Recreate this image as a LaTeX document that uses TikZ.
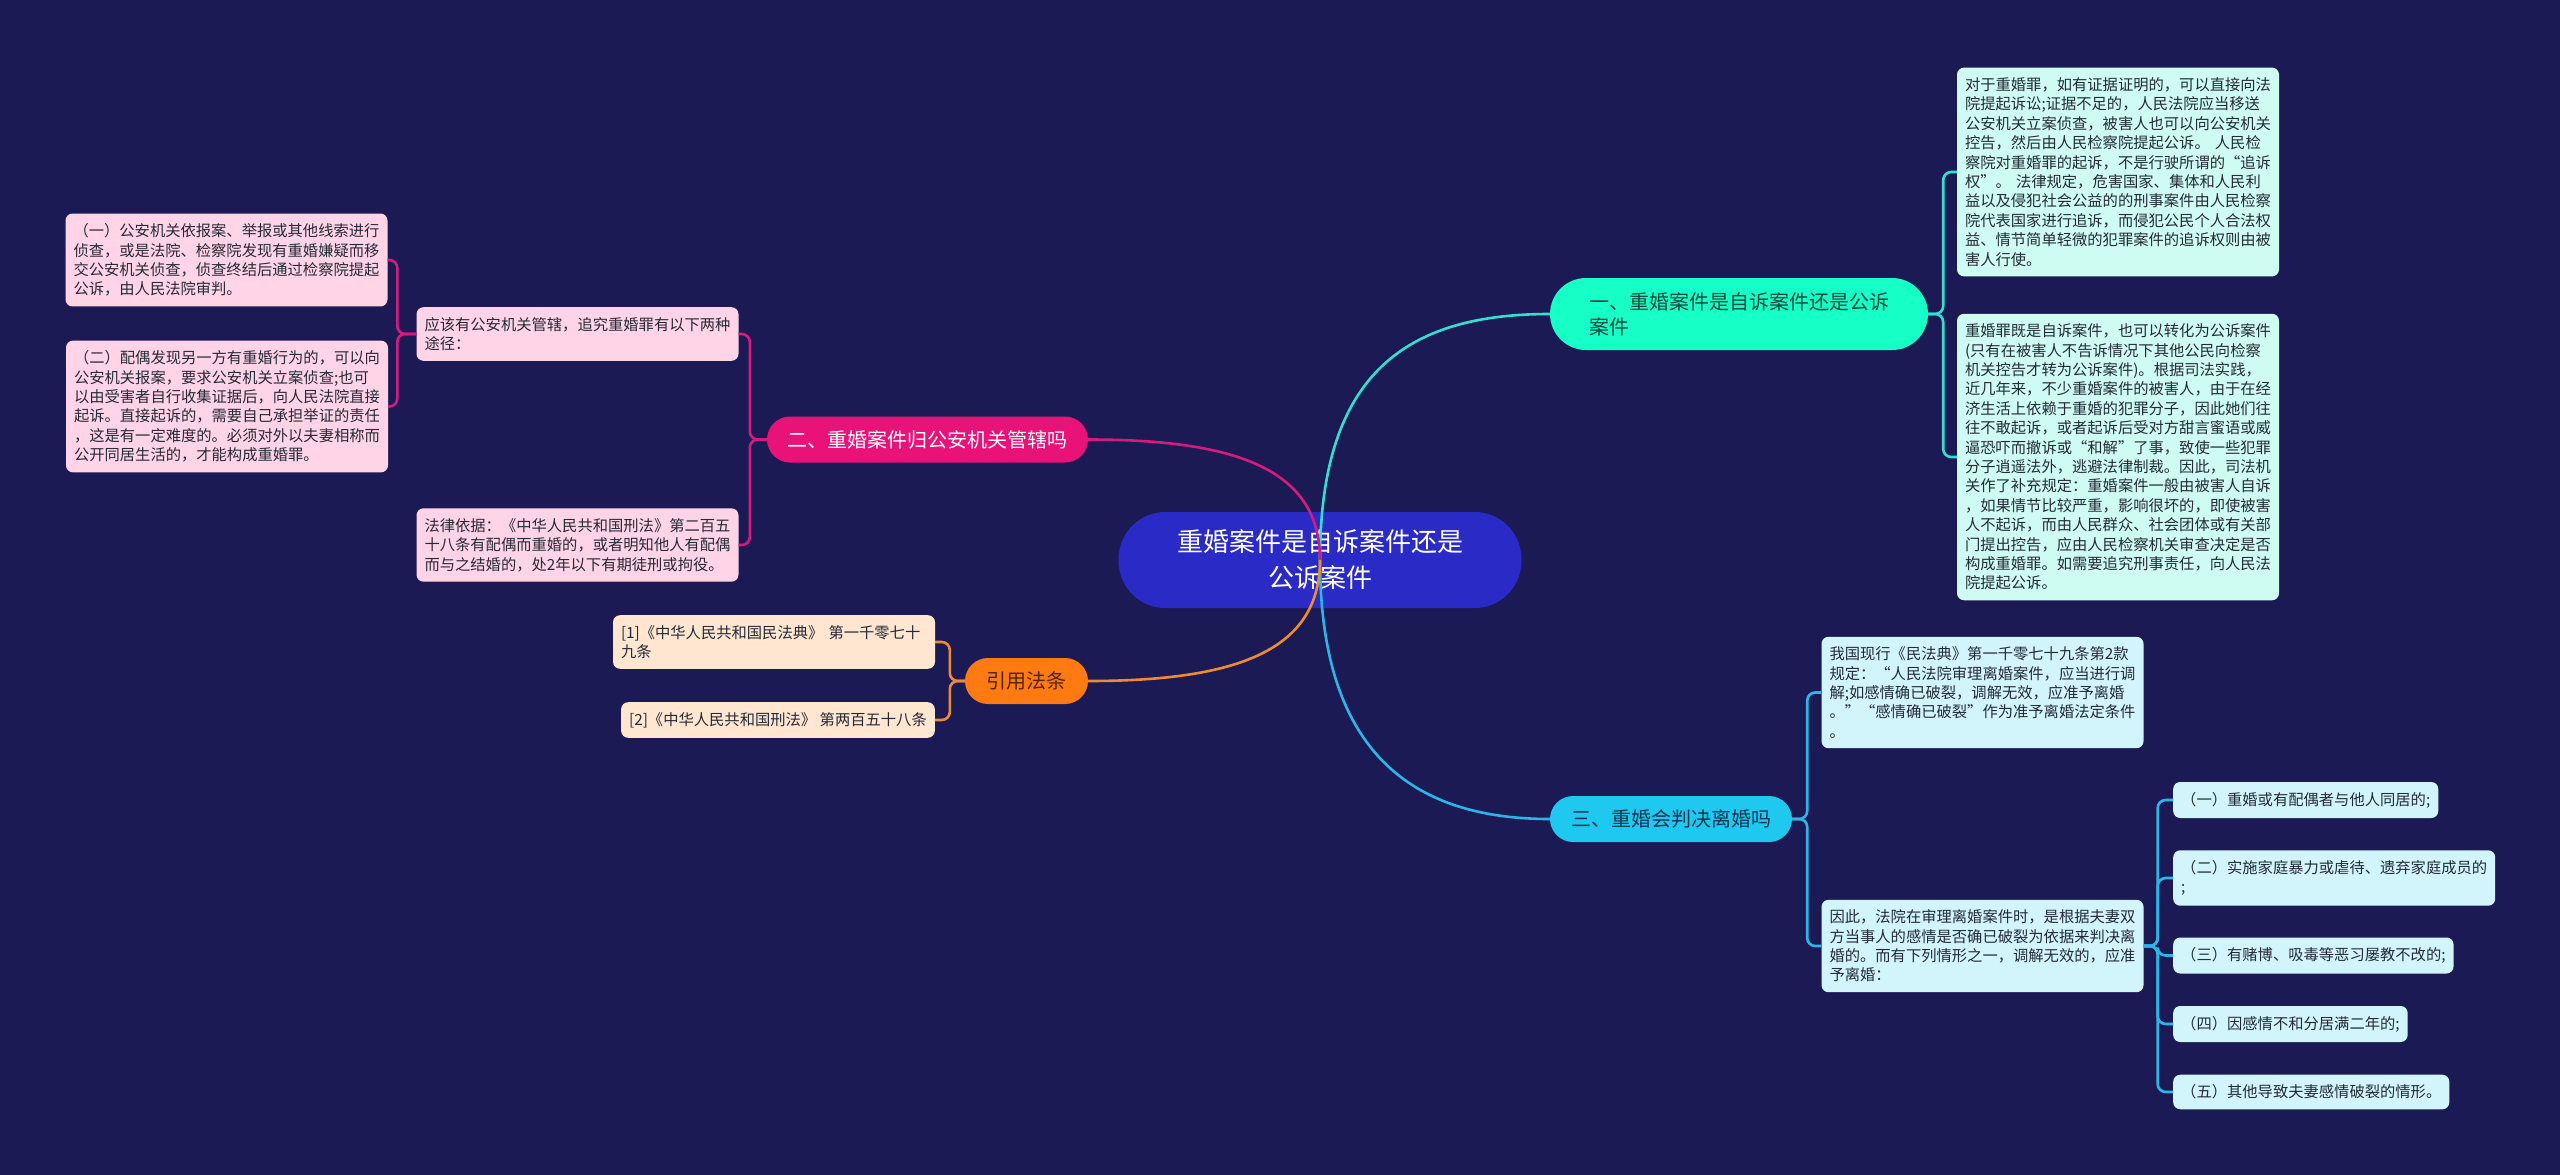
\documentclass[tikz,border=0pt]{standalone}
\usepackage{fontspec}
\setmainfont{Noto Sans CJK SC}
\usepackage{tikz}
\definecolor{bgnavy}{RGB}{27, 26, 84}
\definecolor{topicblue}{RGB}{42, 42, 198}
\definecolor{mintgreen}{RGB}{22, 255, 198}
\definecolor{hotpink}{RGB}{233, 18, 120}
\definecolor{brightorange}{RGB}{255, 122, 16}
\definecolor{skyblue}{RGB}{30, 200, 238}
\definecolor{mintleaf}{RGB}{206, 252, 242}
\definecolor{pinkleaf}{RGB}{255, 212, 230}
\definecolor{peachleaf}{RGB}{255, 230, 208}
\definecolor{blueleaf}{RGB}{210, 245, 252}
\definecolor{mintline}{RGB}{52, 222, 208}
\definecolor{pinkline}{RGB}{214, 26, 126}
\definecolor{orangeline}{RGB}{238, 138, 52}
\definecolor{blueline}{RGB}{44, 182, 232}
\definecolor{darktext}{RGB}{36, 42, 56}
\definecolor{mintdark}{RGB}{14, 72, 64}
\definecolor{orangedark}{RGB}{80, 36, 6}
\definecolor{bluedark}{RGB}{12, 52, 82}

\begin{document}
\begin{tikzpicture}[x=1pt, y=-1pt,
    topic/.style={rectangle, rounded corners=47pt, fill=topicblue, minimum width=403pt, minimum height=96pt, align=center, text=white, font=\fontsize{26}{36}\selectfont},
    branch/.style={rectangle, rounded corners=23pt, minimum height=46pt, align=center, font=\fontsize{20}{25}\selectfont},
    leaf/.style={rectangle, rounded corners=7pt, fill=#1, inner xsep=8pt, inner ysep=10pt, text width=306pt, align=left, text=darktext, font=\fontsize{15.3}{19.4}\selectfont},
    chip/.style={rectangle, rounded corners=7pt, fill=#1, inner xsep=8pt, inner ysep=10pt, align=left, text=darktext, font=\fontsize{15.3}{19.4}\selectfont},
    link/.style={line width=2.6pt, rounded corners=8pt}
]
\fill[bgnavy] (0,0) rectangle (2560,1175);
\useasboundingbox (0,0) rectangle (2560,1175);

% central topic and main branches
\node[topic] (ctr) at (1320,560) {重婚案件是自诉案件还是\\公诉案件};
\node[branch, fill=mintgreen, text=mintdark, minimum width=378pt, minimum height=72pt, rounded corners=36pt, text width=300pt, align=left] (zihs) at (1739,314) {一、重婚案件是自诉案件还是公诉\\案件};
\node[branch, fill=hotpink, text=white, minimum width=321pt] (gaj) at (927.5,439.5) {二、重婚案件归公安机关管辖吗};
\node[branch, fill=brightorange, text=orangedark, minimum width=123pt] (yyfl) at (1026.5,681) {引用法条};
\node[branch, fill=skyblue, text=bluedark, minimum width=242pt] (plhy) at (1671,819) {三、重婚会判决离婚吗};

% branch one
\node[leaf=mintleaf] (zsa) at (2118,172) {对于重婚罪，如有证据证明的，可以直接向法\\院提起诉讼;证据不足的，人民法院应当移送\\公安机关立案侦查，被害人也可以向公安机关\\控告，然后由人民检察院提起公诉。 人民检\\察院对重婚罪的起诉，不是行驶所谓的“追诉\\权”。 法律规定，危害国家、集体和人民利\\益以及侵犯社会公益的的刑事案件由人民检察\\院代表国家进行追诉，而侵犯公民个人合法权\\益、情节简单轻微的犯罪案件的追诉权则由被\\害人行使。};
\node[leaf=mintleaf] (zsb) at (2118,457) {重婚罪既是自诉案件，也可以转化为公诉案件\\(只有在被害人不告诉情况下其他公民向检察\\机关控告才转为公诉案件)。根据司法实践，\\近几年来，不少重婚案件的被害人，由于在经\\济生活上依赖于重婚的犯罪分子，因此她们往\\往不敢起诉，或者起诉后受对方甜言蜜语或威\\逼恐吓而撤诉或“和解”了事，致使一些犯罪\\分子逍遥法外，逃避法律制裁。因此，司法机\\关作了补充规定：重婚案件一般由被害人自诉\\，如果情节比较严重，影响很坏的，即使被害\\人不起诉，而由人民群众、社会团体或有关部\\门提出控告，应由人民检察机关审查决定是否\\构成重婚罪。如需要追究刑事责任，向人民法\\院提起公诉。};

% branch two
\node[leaf=pinkleaf] (gya) at (577.5,334) {应该有公安机关管辖，追究重婚罪有以下两种\\途径：};
\node[leaf=pinkleaf] (gyb) at (577.5,545) {法律依据：《中华人民共和国刑法》第二百五\\十八条有配偶而重婚的，或者明知他人有配偶\\而与之结婚的，处2年以下有期徒刑或拘役。};
\node[leaf=pinkleaf] (gtj1) at (226.5,260) {（一）公安机关依报案、举报或其他线索进行\\侦查，或是法院、检察院发现有重婚嫌疑而移\\交公安机关侦查，侦查终结后通过检察院提起\\公诉，由人民法院审判。};
\node[leaf=pinkleaf] (gtj2) at (227,406.5) {（二）配偶发现另一方有重婚行为的，可以向\\公安机关报案，要求公安机关立案侦查;也可\\以由受害者自行收集证据后，向人民法院直接\\起诉。直接起诉的，需要自己承担举证的责任\\，这是有一定难度的。必须对外以夫妻相称而\\公开同居生活的，才能构成重婚罪。};

% cited articles
\node[leaf=peachleaf] (fl1) at (774,642) {[1]《中华人民共和国民法典》 第一千零七十\\九条};
\node[chip=peachleaf, anchor=east] (fl2) at (935,720) {[2]《中华人民共和国刑法》 第两百五十八条};

% branch three
\node[leaf=blueleaf] (pla) at (1982.5,692.5) {我国现行《民法典》第一千零七十九条第2款\\规定：“人民法院审理离婚案件，应当进行调\\解;如感情确已破裂，调解无效，应准予离婚\\。”“感情确已破裂”作为准予离婚法定条件\\。};
\node[leaf=blueleaf] (plb) at (1982.5,946) {因此，法院在审理离婚案件时，是根据夫妻双\\方当事人的感情是否确已破裂为依据来判决离\\婚的。而有下列情形之一，调解无效的，应准\\予离婚：};
\node[chip=blueleaf, anchor=west] (qx1) at (2173,800) {（一）重婚或有配偶者与他人同居的;};
\node[leaf=blueleaf, anchor=west] (qx2) at (2173,878) {（二）实施家庭暴力或虐待、遗弃家庭成员的\\;};
\node[chip=blueleaf, anchor=west] (qx3) at (2173,955.5) {（三）有赌博、吸毒等恶习屡教不改的;};
\node[chip=blueleaf, anchor=west] (qx4) at (2173,1024) {（四）因感情不和分居满二年的;};
\node[chip=blueleaf, anchor=west] (qx5) at (2173,1092) {（五）其他导致夫妻感情破裂的情形。};

% connectors
\draw[link, mintline] (ctr.center) .. controls +(0,-190) and +(-140,0) .. (zihs.west);
\draw[link, blueline] (ctr.center) .. controls +(0,190) and +(-140,0) .. (plhy.west);
\draw[link, pinkline] (ctr.center) .. controls +(0,-90) and +(150,0) .. (gaj.east);
\draw[link, orangeline] (ctr.center) .. controls +(0,90) and +(150,0) .. (yyfl.east);

\draw[link, mintline] (zihs.east) -- ++(15,0) |- (zsa.west);
\draw[link, mintline] (zihs.east) -- ++(15,0) |- (zsb.west);

\draw[link, pinkline] (gaj.west) -- ++(-17,0) |- (gya.east);
\draw[link, pinkline] (gaj.west) -- ++(-17,0) |- (gyb.east);
\draw[link, pinkline] (gya.west) -- ++(-19,0) |- (gtj1.east);
\draw[link, pinkline] (gya.west) -- ++(-19,0) |- (gtj2.east);

\draw[link, orangeline] (yyfl.west) -- ++(-15,0) |- (fl1.east);
\draw[link, orangeline] (yyfl.west) -- ++(-15,0) |- (fl2.east);

\draw[link, blueline] (plhy.east) -- ++(15,0) |- (pla.west);
\draw[link, blueline] (plhy.east) -- ++(15,0) |- (plb.west);
\draw[link, blueline] (plb.east) -- ++(14,0) |- (qx1.west);
\draw[link, blueline] (plb.east) -- ++(14,0) |- (qx2.west);
\draw[link, blueline] (plb.east) -- ++(14,0) |- (qx3.west);
\draw[link, blueline] (plb.east) -- ++(14,0) |- (qx4.west);
\draw[link, blueline] (plb.east) -- ++(14,0) |- (qx5.west);

\end{tikzpicture}
\end{document}
